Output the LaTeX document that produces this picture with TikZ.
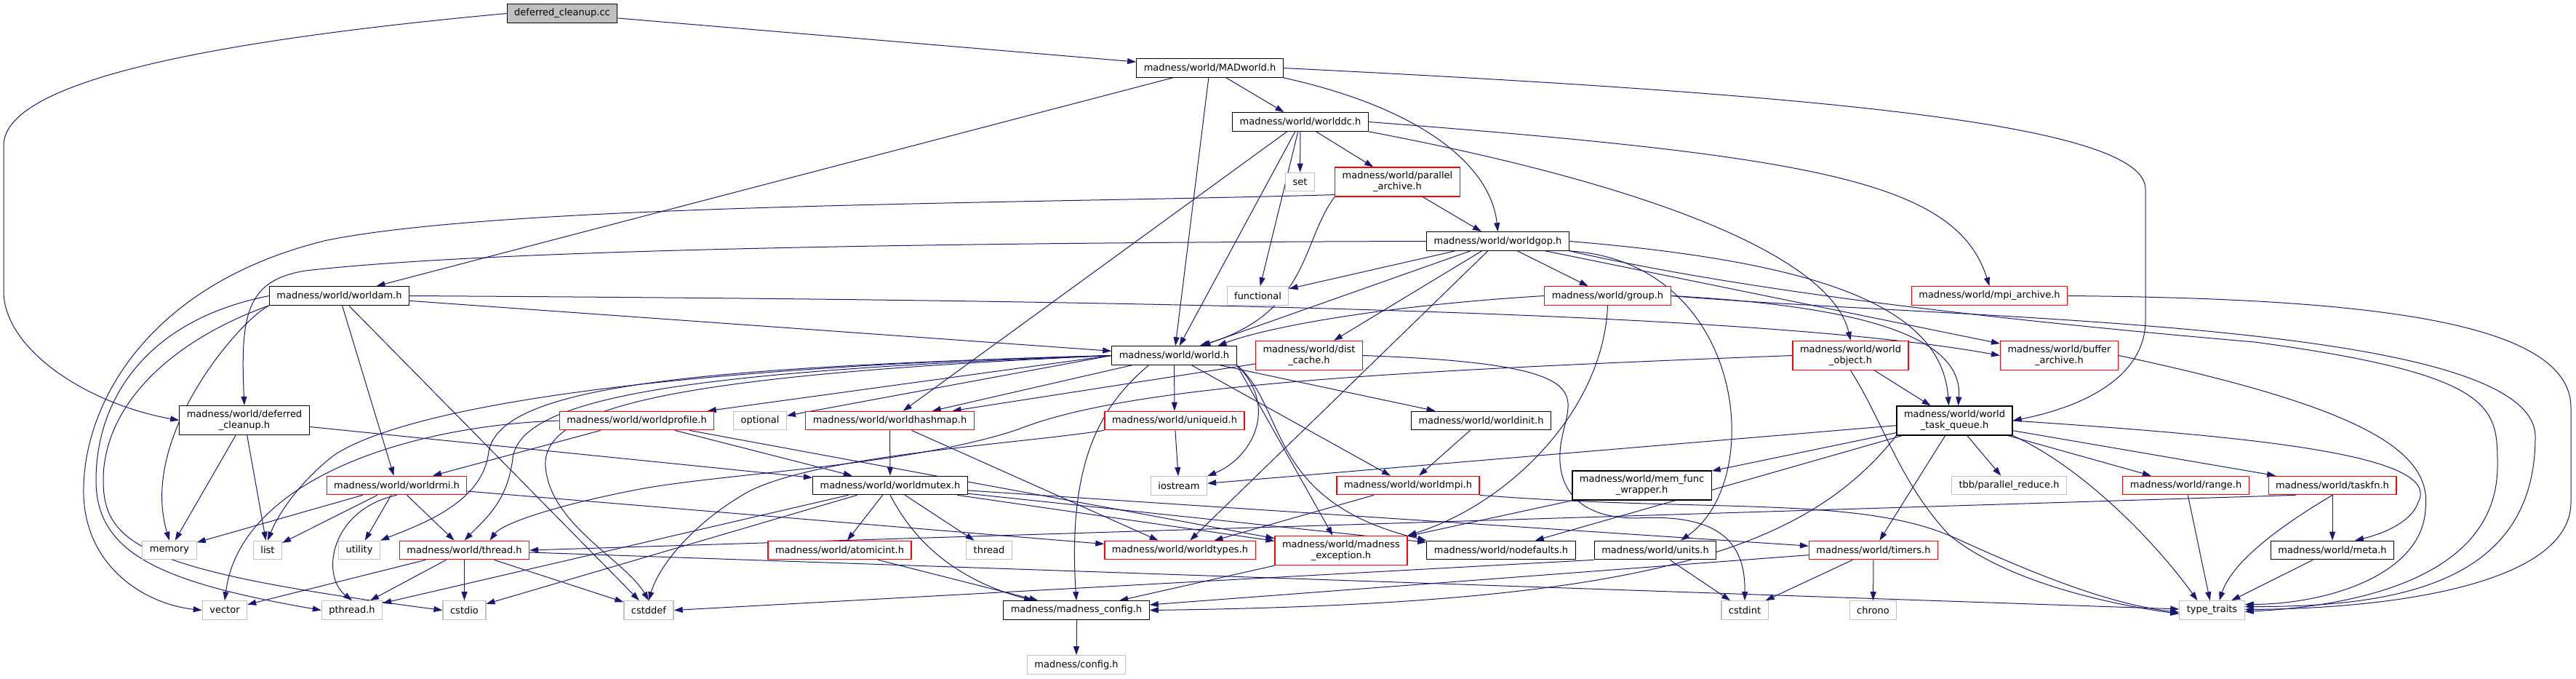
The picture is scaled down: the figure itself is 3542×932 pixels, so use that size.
\documentclass[tikz,border=0pt]{standalone}
\usepackage{fontspec}
\setmainfont{DejaVu Sans}
\usetikzlibrary{arrows.meta}

\definecolor{edgeblue}{HTML}{191970}
\definecolor{sysgray}{HTML}{BFBFBF}

\pgfdeclarelayer{bg}
\pgfsetlayers{bg,main}

\tikzstyle{hdr} = [rectangle,draw=black,line width=1.2pt,fill=white,text=black,font=\fontsize{13}{15}\selectfont,inner xsep=10pt,inner ysep=2pt,minimum height=25.5pt,align=center]
\tikzstyle{trunc} = [hdr,draw=red]
\tikzstyle{syshdr} = [hdr,draw=sysgray]
\tikzstyle{srcfile} = [hdr,fill=sysgray]
\tikzstyle{twoline} = [minimum height=40pt]
\tikzstyle{dep} = [draw=edgeblue,line width=1pt,-{Triangle[length=12pt,width=8pt]}]

\begin{document}
\begin{tikzpicture}[x=1pt,y=-1pt]
    \useasboundingbox (0,0) rectangle (3542,932);
	% top ranks
	\node[srcfile] (dcc) at (773,18.5) {deferred\_cleanup.cc};
	\node[hdr] (madworld) at (1663.5,93.5) {madness/world/MADworld.h};
	\node[hdr] (worlddc) at (1788,167.5) {madness/world/worlddc.h};
	\node[syshdr] (set) at (1787.5,250) {set};
	\node[trunc,twoline] (parallelar) at (1921.5,250) {madness/world/parallel\\\_archive.h};
	\node[hdr] (worldgop) at (2059.5,331.5) {madness/world/worldgop.h};
	\node[hdr] (worldam) at (466.5,406.5) {madness/world/worldam.h};
	\node[syshdr] (functional) at (1729.5,406.5) {functional};
	\node[trunc] (group) at (2210.5,406.5) {madness/world/group.h};
	\node[trunc] (mpiar) at (2735.5,406.5) {madness/world/mpi\_archive.h};
	\node[hdr] (world) at (1614.5,488.5) {madness/world/world.h};
	\node[trunc,twoline] (distcache) at (1800,488.5) {madness/world/dist\\\_cache.h};
	\node[trunc,twoline] (worldobject) at (2544.5,488.5) {madness/world/world\\\_object.h};
	\node[trunc,twoline] (bufferar) at (2831.5,488.5) {madness/world/buffer\\\_archive.h};
	% middle ranks
	\node[hdr,twoline] (defcleanup) at (336,577.5) {madness/world/deferred\\\_cleanup.h};
	\node[trunc] (worldprofile) at (875.5,578) {madness/world/worldprofile.h};
	\node[syshdr] (optional) at (1045,578) {optional};
	\node[trunc] (worldhashmap) at (1223.5,578) {madness/world/worldhashmap.h};
	\node[trunc] (uniqueid) at (1615,578) {madness/world/uniqueid.h};
	\node[hdr] (worldinit) at (2036.5,578) {madness/world/worldinit.h};
	\node[hdr,twoline] (taskqueue) at (2687.5,578) {madness/world/world\\\_task\_queue.h};
	\node[trunc] (worldrmi) at (545.5,667) {madness/world/worldrmi.h};
	\node[hdr] (worldmutex) at (1224,667) {madness/world/worldmutex.h};
	\node[syshdr] (iostream) at (1621,667.5) {iostream};
	\node[trunc] (worldmpi) at (1936,667) {madness/world/worldmpi.h};
	\node[hdr,twoline] (memfunc) at (2257.5,667) {madness/world/mem\_func\\\_wrapper.h};
	\node[syshdr] (tbbreduce) at (2762.5,667) {tbb/parallel\_reduce.h};
	\node[trunc] (range) at (3005.5,667) {madness/world/range.h};
	\node[trunc] (taskfn) at (3207,667) {madness/world/taskfn.h};
	% lower ranks
	\node[syshdr] (memory) at (233,756) {memory};
	\node[syshdr] (list) at (368,756) {list};
	\node[syshdr] (utility) at (494,756) {utility};
	\node[trunc] (threadh) at (638.5,756) {madness/world/thread.h};
	\node[trunc] (atomicint) at (1154.5,756) {madness/world/atomicint.h};
	\node[syshdr] (thread) at (1360,756) {thread};
	\node[trunc] (worldtypes) at (1622.5,756) {madness/world/worldtypes.h};
	\node[trunc,twoline] (mexception) at (1844,756.5) {madness/world/madness\\\_exception.h};
	\node[hdr] (nodefaults) at (2064,756) {madness/world/nodefaults.h};
	\node[hdr] (units) at (2276,756) {madness/world/units.h};
	\node[trunc] (timers) at (2576,756) {madness/world/timers.h};
	\node[hdr] (meta) at (3207,756) {madness/world/meta.h};
	\node[syshdr] (vector) at (309,838.5) {vector};
	\node[syshdr] (pthread) at (484,838.5) {pthread.h};
	\node[syshdr] (cstdio) at (638.5,838.5) {cstdio};
	\node[syshdr] (cstddef) at (892,838.5) {cstddef};
	\node[hdr] (mconfig) at (1480,838.5) {madness/madness\_config.h};
	\node[syshdr] (cstdint) at (2399,838.5) {cstdint};
	\node[syshdr] (chrono) at (2575.5,838.5) {chrono};
	\node[syshdr] (typetraits) at (3041.5,838.5) {type\_traits};
	\node[syshdr] (config) at (1480,913.5) {madness/config.h};

	\begin{pgfonlayer}{bg}
	% plain includes
	\foreach \a/\b in {dcc/madworld, madworld/worldam, madworld/worlddc, madworld/world,
		worlddc/set, worlddc/parallelar, worlddc/worldhashmap, worlddc/functional, worlddc/world,
		parallelar/worldgop, worldgop/functional, worldgop/world, worldgop/distcache, worldgop/group,
		worldgop/worldtypes, worldgop/bufferar, worldam/world, worldam/worldrmi, worldam/cstddef,
		world/worldhashmap, world/uniqueid, world/worldinit, world/worldmpi, distcache/worldhashmap,
		defcleanup/list, defcleanup/memory, defcleanup/worldmutex,
		worldprofile/worldmutex, worldprofile/worldrmi, worldprofile/mexception,
		worldhashmap/worldmutex, worldhashmap/worldtypes, uniqueid/iostream, worldinit/worldmpi,
		worldobject/taskqueue, taskqueue/iostream, taskqueue/memfunc, taskqueue/tbbreduce,
		taskqueue/range, taskqueue/taskfn, taskqueue/timers, taskqueue/nodefaults,
		worldrmi/memory, worldrmi/list, worldrmi/utility, worldrmi/threadh, worldrmi/worldtypes,
		worldmutex/pthread, worldmutex/cstdio, worldmutex/atomicint, worldmutex/thread,
		worldmutex/timers, worldmutex/nodefaults, worldmutex/mexception,
		worldmpi/worldtypes, memfunc/mexception, range/typetraits, taskfn/meta, meta/typetraits,
		threadh/vector, threadh/pthread, threadh/cstdio, threadh/cstddef, threadh/typetraits,
		atomicint/mconfig, mexception/mconfig, timers/mconfig, timers/cstdint, timers/chrono,
		units/cstdint, mconfig/config}
	{\draw[dep] (\a) -- (\b);}
	\draw[dep] (world.west) -- (optional);
	\draw[dep] (world.west) -- (worldprofile);
	\draw[dep] (world.south east) -- (mexception);
	\draw[dep] (units.south west) -- (cstddef.east);
	\draw[dep] ([xshift=38pt]taskfn.south west) -- (threadh.east);
	% routed around the others
	\draw[dep] (dcc.west) .. controls (300,55) and (5,110) .. (5,200) -- (5,400) .. controls (5,480) and (120,555) .. (defcleanup.west);
	\draw[dep] (madworld.east) .. controls (2500,130) and (2950,170) .. (2950,260) -- (2950,440) .. controls (2950,520) and (2860,560) .. (taskqueue.east);
	\draw[dep] (madworld.south east) .. controls (1960,150) and (2050,230) .. (worldgop.north);
	\draw[dep] (worlddc.east) .. controls (2500,215) and (2690,250) .. (mpiar.north);
	\draw[dep] (worlddc.south east) .. controls (2300,260) and (2520,360) .. (worldobject.north);
	\draw[dep] (worldgop.west) .. controls (1400,333) and (700,340) .. (420,372) .. controls (340,385) and (330,430) .. (defcleanup.north);
	\draw[dep] ([yshift=3pt]parallelar.south west) .. controls (1400,280) and (700,280) .. (450,330) .. controls (200,390) and (112,560) .. (115,680) .. controls (118,780) and (200,830) .. (vector.west);
	\draw[dep] (parallelar.south west) .. controls (1790,330) and (1800,430) .. ([xshift=35pt]world.north);
	\draw[dep] (worldam.west) .. controls (200,440) and (132,550) .. (132,660) .. controls (132,760) and (220,800) .. (pthread.west);
	\draw[dep] (worldam.south west) .. controls (230,470) and (142,560) .. (142,660) .. controls (142,750) and (200,785) .. (cstdio.west);
	\draw[dep] (worldam.south west) .. controls (330,440) and (190,600) .. (memory.north);
	\draw[dep] (worldam.east) .. controls (1500,412) and (2400,425) .. (bufferar.west);
	\draw[dep] (worldgop.east) .. controls (2500,360) and (2670,420) .. ([xshift=-8pt]taskqueue.north);
	\draw[dep] (group.east) .. controls (2550,420) and (2700,460) .. ([xshift=5pt]taskqueue.north);
	\draw[dep] (group.west) .. controls (1900,420) and (1740,450) .. ([xshift=60pt]world.north);
	\draw[dep] (worldgop.south east) .. controls (2400,360) and (2430,660) .. ([xshift=35pt]units.north);
	\draw[dep] (group.south) .. controls (2205,560) and (2080,690) .. (mexception.north east);
	\draw[dep] (distcache.east) .. controls (2200,500) and (2160,540) .. (2148,600) .. controls (2135,660) and (2160,712) .. (2250,712) .. controls (2370,705) and (2400,750) .. (cstdint.north);
	\draw[dep] (world.west) .. controls (900,505) and (560,560) .. (460,625) .. controls (420,655) and (385,700) .. (list.north);
	\draw[dep] (world.west) .. controls (950,505) and (690,530) .. (672,620) .. controls (665,690) and (580,720) .. (utility.north east);
	\draw[dep] (world.west) .. controls (950,510) and (715,545) .. (705,630) .. controls (698,690) and (665,715) .. (threadh.north);
	\draw[dep] (world.west) .. controls (950,515) and (745,555) .. (750,640) .. controls (755,720) and (860,770) .. (cstddef.north);
	\draw[dep] (world.south east) .. controls (1760,560) and (1720,630) .. (iostream.north east);
	\draw[dep] ([xshift=-35pt]world.south) .. controls (1510,560) and (1468,640) .. (mconfig.north);
	\draw[dep] (world.south east) .. controls (1770,560) and (1740,690) .. (nodefaults.north west);
	\draw[dep] (uniqueid.south west) .. controls (1400,610) and (1130,625) .. (1030,675) .. controls (950,720) and (905,780) .. (cstddef.north);
	\draw[dep] (worldobject.west) .. controls (1900,510) and (1550,530) .. (1400,590) .. controls (1250,640) and (1000,650) .. (880,672) .. controls (760,695) and (690,720) .. ([xshift=35pt]threadh.north);
	\draw[dep] (worldobject.south) .. controls (2590,580) and (2610,660) .. (2680,735) .. controls (2760,800) and (2900,830) .. ([yshift=-5pt]typetraits.west);
	\draw[dep] (worldrmi.south) .. controls (455,700) and (440,790) .. (pthread.north);
	\draw[dep] (worldprofile.west) .. controls (560,585) and (330,660) .. (vector.north);
	\draw[dep] (worldmutex.south) .. controls (1245,720) and (1290,790) .. ([xshift=-60pt]mconfig.north);
	\draw[dep] (worldmpi.south east) .. controls (2350,705) and (2560,680) .. (2690,740) .. controls (2800,790) and (2900,830) .. ([yshift=-3pt]typetraits.west);
	\draw[dep] (taskqueue.south west) .. controls (2480,760) and (2250,830) .. (mconfig.east);
	\draw[dep] (taskqueue.east) .. controls (3100,600) and (3360,625) .. (3325,690) .. controls (3315,720) and (3270,735) .. ([xshift=31pt]meta.north);
	\draw[dep] (taskqueue.south east) .. controls (2860,640) and (2960,740) .. ([xshift=-20pt]typetraits.north);
	\draw[dep] (taskfn.south) .. controls (3140,720) and (3070,770) .. ([xshift=10pt]typetraits.north);
	\draw[dep] (bufferar.east) .. controls (3250,560) and (3345,620) .. (3335,700) .. controls (3330,790) and (3200,830) .. ([yshift=8pt]typetraits.east);
	\draw[dep] (mpiar.east) .. controls (3250,410) and (3535,440) .. (3535,560) -- (3535,690) .. controls (3535,800) and (3300,836) .. ([yshift=1pt]typetraits.east);
	\draw[dep] (group.east) .. controls (2700,440) and (3486,440) .. (3486,600) .. controls (3486,800) and (3300,834) .. ([yshift=5pt]typetraits.east);
	\draw[dep] (worldgop.south east) .. controls (2400,400) and (2750,440) .. (3100,470) .. controls (3434,515) and (3434,560) .. (3434,640) .. controls (3434,790) and (3250,832) .. ([yshift=-2pt]typetraits.east);
	\end{pgfonlayer}
\end{tikzpicture}
\end{document}
